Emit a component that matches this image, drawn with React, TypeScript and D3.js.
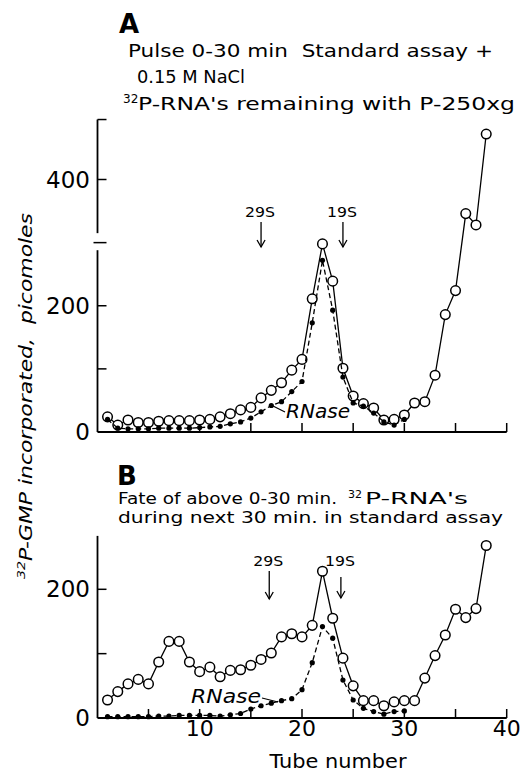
import React from "react";
import * as d3 from "d3";

// ---------- data ----------
const tubes = [1,2,3,4,5,6,7,8,9,10,11,12,13,14,15,16,17,18,19,20,21,22,23,24,25,26,27,28,29,30,31,32,33,34,35,36,37,38];
const rnaseTubes = [1,2,3,4,5,6,7,8,9,10,11,12,13,14,15,16,17,18,19,20,21,22,23,24,25,26,27,28,29,30];

// Panel A: open circles (solid) and RNase (filled dots, dashed)
const topOpen = [24,11,19,15,15,17,18,18,18,19,20,24,29,35,39,54,66,78,98,115,211,298,239,101,57,45,38,19,20,27,46,48,90,186,224,346,328,472];
const topRNase = [20,6,5,5,5,6,6,6,6,7,8,9,13,16,22,32,42,48,64,80,173,272,193,87,46,41,30,16,11,20];

// Panel B
const bottomOpen = [28,41,53,60,53,87,119,119,87,72,79,64,74,75,82,91,101,126,131,126,144,228,155,93,50,27,27,19,25,27,27,62,97,129,169,156,170,268];
const bottomRNase = [2,2,2,2,2,3,3,4,4,4,4,3,5,7,14,19,23,27,30,44,86,142,124,59,28,15,10,6,10,11];

const xTicks = [5,10,15,20,25,30,35,40];
const xTickLabels = [10,20,30,40];
const topYTicks = [100,200,300,400,495];
const topYLabels = [0,200,400];
const bottomYTicks = [100,200];
const bottomYLabels = [0,200];

const topMarkers = [{ label: "29S", tube: 16 }, { label: "19S", tube: 24 }];
const bottomMarkers = [{ label: "29S", tube: 16.8 }, { label: "19S", tube: 23.8 }];

// ---------- layout ----------
const W = 521, H = 771;
const FONT = "'DejaVu Sans', sans-serif";
const x = d3.scaleLinear().domain([0, 40]).range([97.3, 506.7]);
const yTop = d3.scaleLinear().domain([0, 400]).range([432, 179.5]);
const yBot = d3.scaleLinear().domain([0, 200]).range([718, 589.3]);
const axisX = 97.5;

function Series({ xs, ys, y, open }: { xs: number[]; ys: number[]; y: d3.ScaleLinear<number, number>; open: boolean }) {
  const pts = xs.map((t, i) => [x(t), y(ys[i])] as [number, number]);
  const line = d3.line()(pts) || "";
  return (
    <g>
      <path d={line} fill="none" stroke="#000" strokeWidth={1.3} strokeDasharray={open ? undefined : "5,3"} />
      {pts.map((p, i) =>
        open ? (
          <circle key={i} cx={p[0]} cy={p[1]} r={4.8} fill="#fff" stroke="#000" strokeWidth={1.5} />
        ) : (
          <circle key={i} cx={p[0]} cy={p[1]} r={2.6} fill="#000" />
        )
      )}
    </g>
  );
}

function Marker({ label, tube, textY, y1, y2 }: { label: string; tube: number; textY: number; y1: number; y2: number }) {
  const cx = x(tube);
  return (
    <g>
      <text x={cx - 1} y={textY} fontSize={14} fontFamily={FONT} textAnchor="middle" textLength={30} lengthAdjust="spacingAndGlyphs">{label}</text>
      <line x1={cx} x2={cx} y1={y1} y2={y2} stroke="#000" strokeWidth={1.3} />
      <path d={`M${cx - 4},${y2 - 7} L${cx},${y2} L${cx + 4},${y2 - 7}`} fill="none" stroke="#000" strokeWidth={1.3} />
    </g>
  );
}

function XAxis({ yPos, labels }: { yPos: number; labels: boolean }) {
  return (
    <g>
      <line x1={axisX} x2={x(40)} y1={yPos} y2={yPos} stroke="#000" strokeWidth={1.8} />
      {xTicks.map((t) => (
        <line key={t} x1={x(t)} x2={x(t)} y1={yPos} y2={yPos - 9} stroke="#000" strokeWidth={1.5} />
      ))}
      {labels &&
        xTickLabels.map((t) => (
          <text key={t} x={x(t)} y={yPos + 18} fontSize={22} fontFamily={FONT} textAnchor="middle">{t}</text>
        ))}
    </g>
  );
}

export default function App() {
  const topMax = yTop(495);
  const botMax = yBot(283);
  const SG = "spacingAndGlyphs";
  return (
    <svg width={W} height={H} style={{ position: "absolute", left: 0, top: 0, background: "#fff" }}>
      <rect width={W} height={H} fill="#fff" />

      {/* ---------- Titles ---------- */}
      <text x={119} y={33} fontSize={26} fontWeight="bold" fontFamily={FONT}>A</text>
      <text x={128} y={57} fontSize={18} fontFamily={FONT} textLength={365} lengthAdjust={SG} style={{ whiteSpace: "pre" }}>Pulse 0-30 min  Standard assay +</text>
      <text x={137} y={83} fontSize={18} fontFamily={FONT} textLength={108} lengthAdjust={SG}>0.15 M NaCl</text>
      <text x={123} y={103} fontSize={12} fontFamily={FONT}>32</text>
      <text x={138} y={110} fontSize={18} fontFamily={FONT} textLength={377} lengthAdjust={SG}>P-RNA's remaining with P-250xg</text>

      <text x={117} y={485} fontSize={26} fontWeight="bold" fontFamily={FONT}>B</text>
      <text x={118} y={504} fontSize={16} fontFamily={FONT} textLength={219} lengthAdjust={SG}>Fate of above 0-30 min.</text>
      <text x={348} y={498} fontSize={11} fontFamily={FONT}>32</text>
      <text x={365} y={504} fontSize={16} fontFamily={FONT} textLength={103} lengthAdjust={SG}>P-RNA's</text>
      <text x={118} y={523} fontSize={16} fontFamily={FONT} textLength={385} lengthAdjust={SG}>during next 30 min. in standard assay</text>

      {/* ---------- Y axis label ---------- */}
      <g transform="translate(32, 396) rotate(-90)">
        <text x={0} y={0} fontSize={17} fontStyle="italic" fontFamily={FONT} textAnchor="middle" textLength={366} lengthAdjust={SG} style={{ whiteSpace: "pre" }}>
          <tspan fontSize={11} dy={-7}>32</tspan>
          <tspan dy={7}>P-GMP incorporated,  picomoles</tspan>
        </text>
      </g>

      {/* ---------- Panel A axes ---------- */}
      <line x1={axisX} x2={axisX} y1={yTop(0)} y2={yTop(288)} stroke="#000" strokeWidth={1.8} />
      <line x1={axisX} x2={axisX} y1={yTop(315)} y2={topMax} stroke="#000" strokeWidth={1.8} />
      {topYTicks.map((t) => (
        <line key={t} x1={t === 300 ? axisX - 4 : axisX} x2={axisX + 9} y1={yTop(t)} y2={yTop(t)} stroke="#000" strokeWidth={1.5} />
      ))}
      {topYLabels.map((t) => (
        <text key={t} x={90} y={yTop(t) + 8} fontSize={23} fontFamily={FONT} textAnchor="end">{t}</text>
      ))}
      <XAxis yPos={yTop(0)} labels={false} />

      {/* ---------- Panel A data ---------- */}
      <Series xs={tubes} ys={topOpen} y={yTop} open={true} />
      <Series xs={rnaseTubes} ys={topRNase} y={yTop} open={false} />
      {topMarkers.map((m) => (
        <Marker key={m.label} label={m.label} tube={m.tube} textY={217} y1={222} y2={247} />
      ))}
      <text x={286} y={418} fontSize={20} fontStyle="italic" fontFamily={FONT} textLength={64} lengthAdjust={SG}>RNase</text>
      <line x1={285} y1={412} x2={273} y2={406} stroke="#000" strokeWidth={1.2} />

      {/* ---------- Panel B axes ---------- */}
      <line x1={axisX} x2={axisX} y1={yBot(0)} y2={botMax} stroke="#000" strokeWidth={1.8} />
      {bottomYTicks.map((t) => (
        <line key={t} x1={axisX} x2={axisX + 9} y1={yBot(t)} y2={yBot(t)} stroke="#000" strokeWidth={1.5} />
      ))}
      {bottomYLabels.map((t) => (
        <text key={t} x={90} y={yBot(t) + 8} fontSize={23} fontFamily={FONT} textAnchor="end">{t}</text>
      ))}
      <XAxis yPos={yBot(0)} labels={true} />
      <text x={338} y={768} fontSize={19} fontFamily={FONT} textAnchor="middle" textLength={137} lengthAdjust={SG}>Tube number</text>

      {/* ---------- Panel B data ---------- */}
      <Series xs={tubes} ys={bottomOpen} y={yBot} open={true} />
      <Series xs={rnaseTubes} ys={bottomRNase} y={yBot} open={false} />
      <Marker label={bottomMarkers[0].label} tube={bottomMarkers[0].tube} textY={566} y1={571} y2={599} />
      <Marker label={bottomMarkers[1].label} tube={bottomMarkers[1].tube} textY={566} y1={577} y2={598} />
      <text x={191} y={703} fontSize={20} fontStyle="italic" fontFamily={FONT} textLength={70} lengthAdjust={SG}>RNase</text>
      <line x1={262} y1={698} x2={278} y2={702} stroke="#000" strokeWidth={1.2} />
    </svg>
  );
}
